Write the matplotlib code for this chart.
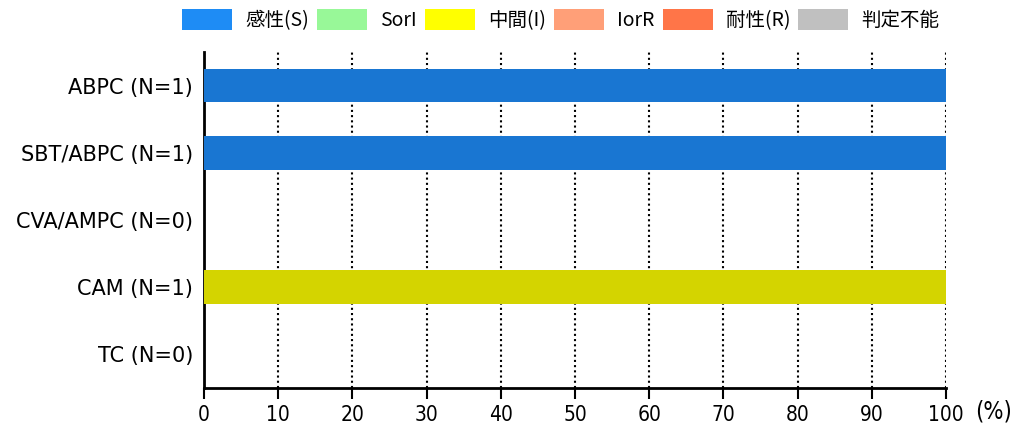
import matplotlib.pyplot as plt
from matplotlib.patches import Patch
import numpy as np

plt.rcParams['font.family'] = ['Noto Sans CJK JP', 'DejaVu Sans']

drugs = ['ABPC (N=1)', 'SBT/ABPC (N=1)', 'CVA/AMPC (N=0)', 'CAM (N=1)', 'TC (N=0)']
s_vals = [100, 100, 0, 0, 0]
sori_vals = [0, 0, 0, 0, 0]
i_vals = [0, 0, 0, 100, 0]
iorr_vals = [0, 0, 0, 0, 0]
r_vals = [0, 0, 0, 0, 0]
nd_vals = [0, 0, 0, 0, 0]

legend_labels = ['感性(S)', 'SorI', '中間(I)', 'IorR', '耐性(R)', '判定不能']
legend_colors = ['#1e8cf5', '#98f898', '#ffff00', '#ff9f78', '#ff7548', '#c0c0c0']
bar_colors = ['#1976d2', '#7ccd7c', '#d4d400', '#e8906a', '#e8663a', '#a8a8a8']
xticks = list(range(0, 101, 10))


def main():
    fig = plt.figure(figsize=(10.16, 4.28), dpi=100)
    ax = fig.add_axes([0.2008, 0.0935, 0.7302, 0.785])

    y = np.arange(len(drugs))
    left = np.zeros(len(drugs))
    for vals, c in zip([s_vals, sori_vals, i_vals, iorr_vals, r_vals, nd_vals], bar_colors):
        ax.barh(y, vals, left=left, height=0.5, color=c, zorder=3)
        left += np.array(vals)

    ax.set_ylim(len(drugs) - 0.5, -0.5)
    ax.set_xlim(0, 100)
    ax.set_yticks(y)
    ax.set_yticklabels(drugs, fontsize=15, family='DejaVu Sans')
    ax.tick_params(axis='y', length=0, pad=8)
    ax.set_xticks(xticks)
    ax.set_xticklabels([str(t) for t in xticks], fontsize=15, family='DejaVu Sans',
                       fontstretch='condensed')
    ax.tick_params(axis='x', length=8, width=1.5, direction='out', pad=4)

    ax.grid(axis='x', linestyle=(0, (1, 1.5)), color='black', linewidth=1.5, zorder=1)
    ax.spines['top'].set_visible(False)
    ax.spines['right'].set_visible(False)
    ax.spines['left'].set_linewidth(2)
    ax.spines['bottom'].set_linewidth(2)

    fig.text(0.996, 0.01, '(%)', fontsize=17, ha='right', va='bottom',
             family='DejaVu Sans', fontstretch='condensed')

    handles = [Patch(facecolor=c, label=l) for c, l in zip(legend_colors, legend_labels)]
    fig.legend(handles=handles, loc='center', bbox_to_anchor=(0.552, 0.954), ncol=6,
               frameon=False, fontsize=14, handlelength=2.57, handleheight=1.29,
               columnspacing=0.42, handletextpad=0.67, borderpad=0, borderaxespad=0)

    fig.savefig('out.png', dpi=100)


if __name__ == '__main__':
    main()
